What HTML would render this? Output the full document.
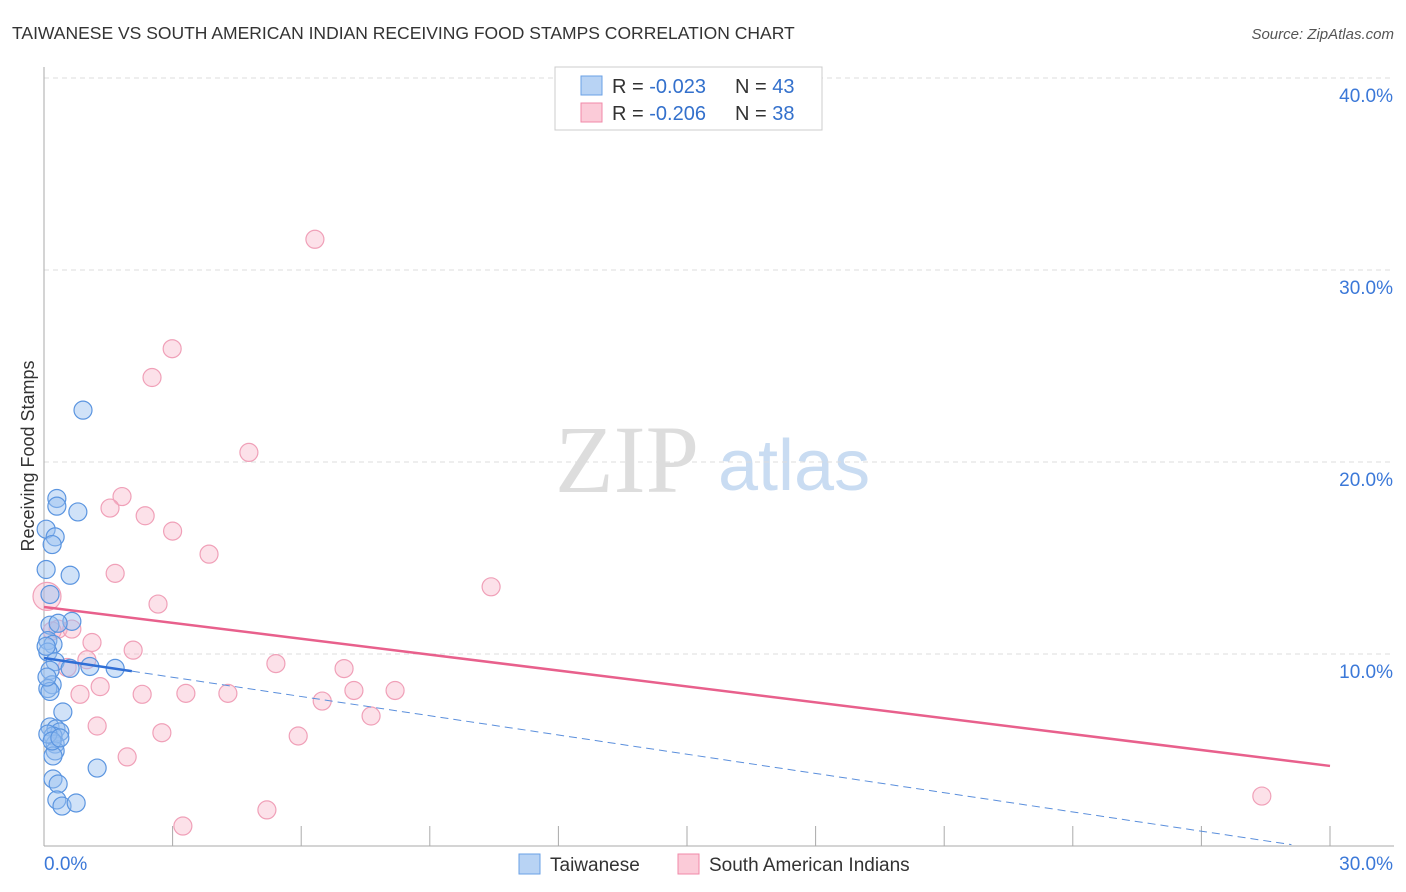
<!DOCTYPE html>
<html><head><meta charset="utf-8"><style>
body{margin:0;background:#fff;font-family:"Liberation Sans",sans-serif;}
svg{display:block}
</style></head><body>
<svg id="c" width="1406" height="892">
<text x="12" y="39" font-size="17.5" fill="#333">TAIWANESE VS SOUTH AMERICAN INDIAN RECEIVING FOOD STAMPS CORRELATION CHART</text>
<text x="1394" y="39" font-size="15" fill="#555" font-style="italic" text-anchor="end">Source: ZipAtlas.com</text>
<text x="555" y="492" font-size="96" fill="#ddd" font-family="Liberation Serif,serif">ZIP</text>
<text x="718" y="490" font-size="72" fill="#c9dcf2">atlas</text>
<g id="grid"></g><g id="pts"></g><g id="lines"></g>
<text transform="translate(34,456) rotate(-90)" font-size="18" fill="#333" text-anchor="middle">Receiving Food Stamps</text>
<g>
<rect x="555" y="67" width="267" height="63" fill="#fff" stroke="#ccc"/>
<rect x="581" y="76" width="21" height="19" fill="#b8d3f4" stroke="#6aa0e6"/>
<rect x="581" y="103" width="21" height="19" fill="#fbcbd8" stroke="#f08aa8"/>
<text x="612" y="93" font-size="20" fill="#333">R = <tspan fill="#3370cc">-0.023</tspan></text>
<text x="735" y="93" font-size="20" fill="#333">N = <tspan fill="#3370cc">43</tspan></text>
<text x="612" y="120" font-size="20" fill="#333">R = <tspan fill="#3370cc">-0.206</tspan></text>
<text x="735" y="120" font-size="20" fill="#333">N = <tspan fill="#3370cc">38</tspan></text>
</g>
<g>
<rect x="519" y="854" width="21" height="20" fill="#b8d3f4" stroke="#6aa0e6"/>
<text x="550" y="871" font-size="19" fill="#333">Taiwanese</text>
<rect x="678" y="854" width="21" height="20" fill="#fbcbd8" stroke="#f08aa8"/>
<text x="709" y="871" font-size="19" fill="#333">South American Indians</text>
</g>
</svg>
<script>
const xTicks=[0,3,6,9,12,15,18,21,24,27,30];
const yTicks=[10,20,30,40];
const blueX=[0.91,0.3,0.3,0.79,0.05,0.26,0.19,0.61,0.05,0.14,0.14,0.65,0.33,0.09,0.21,0.09,0.26,0.61,1.07,1.66,0.14,0.19,0.09,0.14,0.44,0.14,0.28,0.37,0.21,0.26,0.26,0.21,1.24,0.21,0.33,0.3,0.42,0.75,0.07,0.09,0.19,0.37,0.05];
const blueY=[22.7,18.1,17.7,17.4,16.5,16.1,15.7,14.1,14.4,13.1,11.5,11.7,11.6,10.7,10.5,10.1,9.6,9.25,9.35,9.25,9.15,8.4,8.2,8.05,6.98,6.2,6.1,5.94,5.73,5.31,4.95,4.69,4.06,3.49,3.23,2.4,2.08,2.24,8.8,5.83,5.47,5.63,10.4];
const pinkX=[6.32,2.99,2.52,4.78,1.82,1.54,2.36,3.0,3.85,1.66,10.43,2.66,0.07,0.33,0.65,1.12,2.08,1.0,0.54,5.41,7.0,1.31,2.29,3.31,4.29,7.23,8.19,0.84,6.49,7.63,1.24,2.75,5.93,1.94,5.2,3.24,28.41,0.19];
const pinkY=[31.6,25.9,24.4,20.5,18.2,17.6,17.2,16.4,15.2,14.2,13.5,12.6,13.0,11.3,11.3,10.6,10.2,9.7,9.3,9.5,9.24,8.3,7.9,7.95,7.95,8.1,8.1,7.9,7.55,6.77,6.25,5.9,5.73,4.64,1.88,1.04,2.6,11.2];
const pinkLine=[12.45,4.17], blueLine=[9.79,-0.23];
const NS="http://www.w3.org/2000/svg";
const X=v=>44+v/30*1286, Y=v=>846-v*19.2;
function mk(t,a,p){const e=document.createElementNS(NS,t);for(const k in a)e.setAttribute(k,a[k]);p.appendChild(e);return e;}
const g=document.getElementById('grid');
for(const t of yTicks){
 const l=mk('line',{x1:44,x2:1394,y1:Y(t),y2:Y(t),stroke:'#ddd','stroke-dasharray':'5,4'},g);
 
 
 const tx=mk('text',{x:1393,y:Y(t)+24,'font-size':19,fill:'#3b78d8','text-anchor':'end'},g);tx.textContent=t.toFixed(1)+'%';
 
 
}
mk('line',{x1:44,x2:44,y1:67,y2:846,stroke:'#aaa'},g);
mk('line',{x1:44,x2:1394,y1:846,y2:846,stroke:'#aaa'},g);
for(const t of xTicks){
 const l=mk('line',{x1:X(t),x2:X(t),y1:826,y2:846,stroke:'#aaa'},g);
 
 
}
const a=mk('text',{x:44,y:870,'font-size':19,fill:'#3b78d8'},g);a.textContent='0.0%';


const b=mk('text',{x:1393,y:870,'font-size':19,fill:'#3b78d8','text-anchor':'end'},g);b.textContent='30.0%';


const p=document.getElementById('pts');
pinkX.forEach((x,i)=>{const c=mk('circle',{cx:X(x),cy:Y(pinkY[i]),r:i==12?14:9,fill:'rgba(248,180,200,0.4)',stroke:'#f0a0b8','stroke-width':1.2},p);
 
 });
blueX.forEach((x,i)=>{const c=mk('circle',{cx:X(x),cy:Y(blueY[i]),r:9,fill:'rgba(150,190,240,0.45)',stroke:'#5b95e0','stroke-width':1.2},p);
 
 });
const L=document.getElementById('lines');
const pl=mk('line',{x1:X(0),y1:Y(pinkLine[0]),x2:X(30),y2:Y(pinkLine[1]),stroke:'#e8608c','stroke-width':2.5},L);


const bs=(blueLine[1]-blueLine[0])/30, bv=x=>blueLine[0]+bs*x;
const bl=mk('line',{x1:X(0),y1:Y(bv(0)),x2:X(2.05),y2:Y(bv(2.05)),stroke:'#2f6fd6','stroke-width':2.5},L);


const bd=mk('line',{x1:X(2.05),y1:Y(bv(2.05)),x2:X(29.1),y2:Y(bv(29.1)),stroke:'#5b8fdc','stroke-width':1,'stroke-dasharray':'8,5'},L);


</script>
</body></html>
